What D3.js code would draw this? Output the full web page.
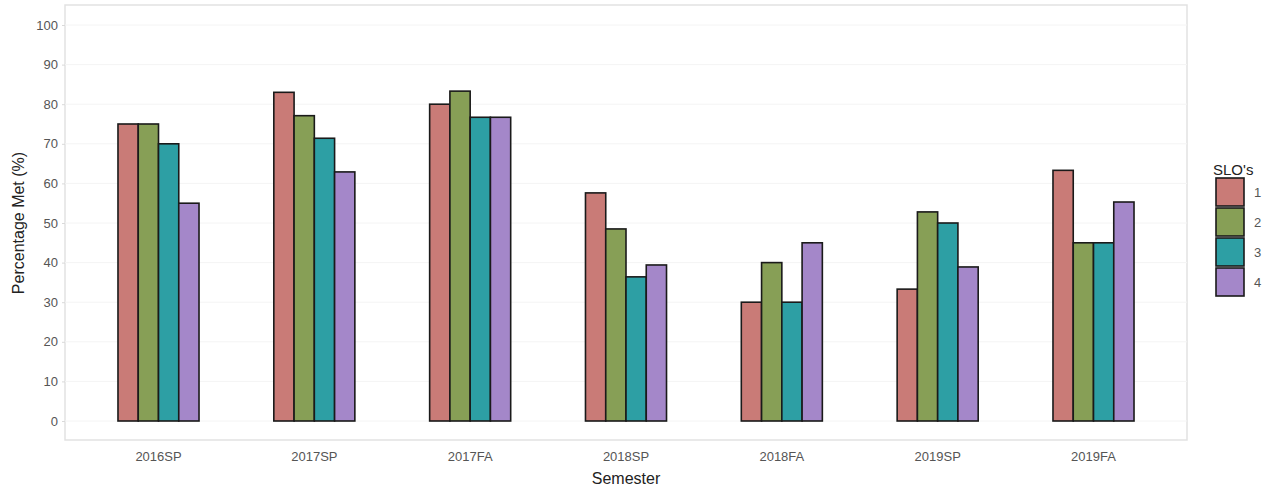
<!DOCTYPE html>
<html><head><meta charset="utf-8">
<script src="https://cdn.jsdelivr.net/npm/d3@7"></script>
<style>body{margin:0;background:#fff;}svg{font-family:"Liberation Sans",Arial,sans-serif;}</style>
</head><body><svg id="c" width="1272" height="490"></svg>
<script>
const semesters = ["2016SP","2017SP","2017FA","2018SP","2018FA","2019SP","2019FA"];
const slos = ["1","2","3","4"];
const slo1 = [75, 83, 80, 57.6, 30, 33.3, 63.3];
const slo2 = [75, 77.1, 83.3, 48.5, 40, 52.8, 45];
const slo3 = [70, 71.4, 76.7, 36.4, 30, 50, 45];
const slo4 = [55, 62.9, 76.7, 39.4, 45, 38.9, 55.3];
const yTicks = [0,10,20,30,40,50,60,70,80,90,100];
const colors = ["#c97b77","#879f56","#2d9fa4","#a487c9"];

const series = [slo1, slo2, slo3, slo4];
const svg = d3.select("#c");
const L = 65, R = 1187, T = 5, B = 440;
const x = d3.scaleBand().domain(semesters).range([L, R]).paddingOuter(0.1).paddingInner(0);
const y = d3.scaleLinear().domain([0,100]).range([421, 25]);
const grpW = x.bandwidth()*0.52;
const xs = d3.scaleBand().domain(slos).range([0, grpW]);

// panel border
svg.append("rect").attr("x",L).attr("y",T).attr("width",R-L).attr("height",B-T)
  .attr("fill","none").attr("stroke","#e2e2e2").attr("stroke-width",1.5);
// gridlines
svg.append("g").selectAll("line").data(yTicks).join("line")
  .attr("x1",L).attr("x2",R).attr("y1",d=>y(d)).attr("y2",d=>y(d))
  .attr("stroke","#f4f4f4").attr("stroke-width",1);

// bars
const data = [];
semesters.forEach((s,i)=>slos.forEach((k,j)=>data.push({s,k,j,v:series[j][i]})));
svg.append("g").selectAll("rect").data(data).join("rect")
  .attr("x",d=>x(d.s)+x.bandwidth()/2-grpW/2+xs(d.k))
  .attr("width",xs.bandwidth())
  .attr("y",d=>y(d.v)).attr("height",d=>y(0)-y(d.v))
  .attr("fill",d=>colors[d.j]).attr("stroke","#1a1a1a").attr("stroke-width",1.6);

// y axis
const ya = svg.append("g").attr("transform",`translate(${L},0)`)
  .call(d3.axisLeft(y).tickValues(yTicks).tickSize(3).tickPadding(4));
ya.select(".domain").remove();
ya.selectAll("line").attr("stroke","#d9d9d9");
ya.selectAll("text").attr("fill","#555").attr("font-size",13).attr("font-family","Liberation Sans, Arial, sans-serif");

// x axis
const xa = svg.append("g").attr("transform",`translate(0,${B})`)
  .call(d3.axisBottom(x).tickSize(0).tickPadding(12));
xa.select(".domain").remove();
xa.selectAll("text").attr("fill","#555").attr("font-size",13).attr("font-family","Liberation Sans, Arial, sans-serif");

// axis titles
svg.append("text").attr("x",(L+R)/2).attr("y",484).attr("text-anchor","middle")
  .attr("font-size",16).attr("fill","#222").text("Semester");
svg.append("text").attr("transform","translate(24,223) rotate(-90)").attr("text-anchor","middle")
  .attr("font-size",16).attr("fill","#222").text("Percentage Met (%)");

// legend
const lg = svg.append("g");
lg.append("text").attr("x",1213).attr("y",175).attr("font-size",15).attr("fill","#222").text("SLO's");
slos.forEach((k,j)=>{
  lg.append("rect").attr("x",1216).attr("y",178+j*30).attr("width",28).attr("height",28)
    .attr("fill",colors[j]).attr("stroke","#1a1a1a").attr("stroke-width",1.6);
  lg.append("text").attr("x",1254).attr("y",197+j*30).attr("font-size",13).attr("fill","#555").text(k);
});
</script></body></html>
